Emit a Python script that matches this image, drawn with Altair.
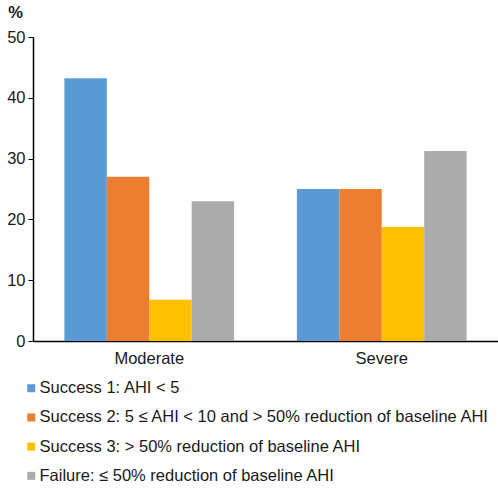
import altair as alt
import pandas as pd

severity = ["Moderate", "Severe"]
outcomes = [
    "Success 1: AHI < 5",
    "Success 2: 5 ≤ AHI < 10 and > 50% reduction of baseline AHI",
    "Success 3: > 50% reduction of baseline AHI",
    "Failure: ≤ 50% reduction of baseline AHI",
]
moderate_pct = [43.2, 27.0, 6.8, 23.0]
severe_pct = [25.0, 25.0, 18.75, 31.25]
colors = ["#5B9BD5", "#ED7D31", "#FFC000", "#ABABAB"]

rows = []
for grp, vals in zip(severity, [moderate_pct, severe_pct]):
    for i, (o, v) in enumerate(zip(outcomes, vals)):
        rows.append({"group": grp, "outcome": o, "order": i, "pct": v})
df = pd.DataFrame(rows)

FONT = "Liberation Sans"

chart = (
    alt.Chart(df)
    .mark_bar()
    .encode(
        x=alt.X(
            "group:N",
            sort=severity,
            scale=alt.Scale(paddingInner=0.27, paddingOuter=0.135),
            axis=alt.Axis(
                title=None,
                labelAngle=0,
                ticks=False,
                labelFontSize=16.5,
                labelFont=FONT,
                labelColor="#1a1a1a",
                labelPadding=9,
                domainColor="black",
                domainWidth=1.5,
            ),
        ),
        xOffset=alt.XOffset("outcome:N", sort=outcomes, scale=alt.Scale(paddingInner=0, paddingOuter=0)),
        y=alt.Y(
            "pct:Q",
            scale=alt.Scale(domain=[0, 50]),
            axis=alt.Axis(
                title="%",
                titleAngle=0,
                titleFont=FONT,
                titleFontSize=16.5,
                titleFontWeight="bold",
                titleColor="#1a1a1a",
                titleX=-18,
                titleY=-17,
                titleAlign="center",
                values=[0, 10, 20, 30, 40, 50],
                grid=False,
                tickColor="black",
                tickSize=5,
                labelFontSize=16.5,
                labelFont=FONT,
                labelColor="#1a1a1a",
                labelPadding=3,
                domainColor="black",
                domainWidth=1.5,
            ),
        ),
        color=alt.Color(
            "outcome:N",
            sort=outcomes,
            scale=alt.Scale(domain=outcomes, range=colors),
            legend=alt.Legend(
                title=None,
                orient="none",
                legendX=-10,
                legendY=343,
                direction="vertical",
                symbolType="square",
                symbolSize=64,
                symbolStrokeWidth=0,
                labelFont=FONT,
                labelFontSize=16.5,
                labelColor="#1a1a1a",
                labelLimit=600,
                labelOffset=0,
                rowPadding=12.2,
            ),
        ),
    )
    .properties(
        width=465,
        height=304,
        padding={"left": 33, "top": 37, "right": 0, "bottom": 149},
        autosize=alt.AutoSizeParams(type="none"),
    )
    .configure_view(stroke=None)
)

chart.save("out.html", embed_options={"renderer": "svg", "actions": False})
